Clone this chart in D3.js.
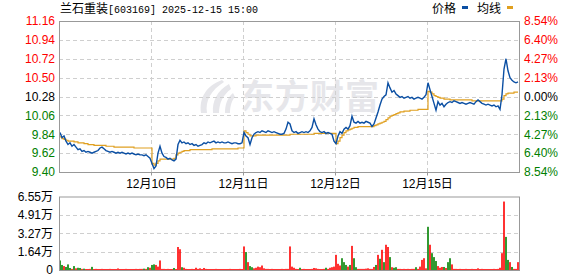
<!DOCTYPE html>
<html>
<head>
<meta charset="utf-8">
<script src="https://cdn.jsdelivr.net/npm/d3@7"></script>
<style>
    body { margin: 0; background: #fff; }
    svg { display: block; }
    text { font-family: "Liberation Sans", Arial, "Noto Sans CJK SC", sans-serif; }
</style>
</head>
<body>
<svg id="chart" width="578" height="276"></svg>
<script>
// stock + time
var stockName = '兰石重装';
var stockCode = '[603169] 2025-12-15 15:00';
var preClose = 10.28;

// left / right / volume tick labels
var priceTicks = ['11.16', '10.94', '10.72', '10.50', '10.28', '10.06', '9.84', '9.62', '9.40'];
var pctTicks = ['8.54%', '6.40%', '4.27%', '2.13%', '0.00%', '2.13%', '4.27%', '6.40%', '8.54%'];
var volTicks = [6.55, 4.91, 3.27, 1.64, 0];
var dayLabels = ['12月10日', '12月11日', '12月12日', '12月15日'];

// price, one value per 2px slot (46 per day)
var price1 = [9.86, 9.80, 9.82, 9.76, 9.72, 9.74, 9.70, 9.72, 9.69, 9.66, 9.67, 9.64, 9.65, 9.63, 9.64, 9.63,
    9.62, 9.63, 9.64, 9.65, 9.68, 9.69, 9.67, 9.65, 9.64, 9.63, 9.64, 9.63, 9.62, 9.63, 9.62, 9.63,
    9.62, 9.61, 9.62, 9.61, 9.62, 9.61, 9.60, 9.61, 9.60, 9.60, 9.59, 9.60, 9.58, 9.56];
var price2 = [9.50, 9.44, 9.47, 9.62, 9.70, 9.62, 9.58, 9.57, 9.55, 9.56, 9.54, 9.53, 9.55, 9.72, 9.77, 9.74,
    9.75, 9.73, 9.74, 9.72, 9.73, 9.71, 9.72, 9.70, 9.71, 9.72, 9.74, 9.73, 9.75, 9.74, 9.75, 9.76,
    9.74, 9.75, 9.74, 9.75, 9.74, 9.74, 9.75, 9.74, 9.73, 9.74, 9.74, 9.73, 9.73, 9.74];
var price3 = [9.86, 9.82, 9.80, 9.72, 9.80, 9.84, 9.86, 9.87, 9.86, 9.88, 9.87, 9.86, 9.88, 9.87, 9.86, 9.87,
    9.86, 9.85, 9.84, 9.84, 9.85, 9.90, 9.98, 9.96, 9.88, 9.86, 9.87, 9.85, 9.86, 9.87, 9.86, 9.87,
    9.86, 9.88, 9.92, 10.02, 9.95, 9.90, 9.87, 9.86, 9.87, 9.85, 9.86, 9.85, 9.84, 9.76];
var price4 = [9.73, 9.82, 9.87, 9.85, 9.90, 9.92, 9.90, 9.94, 10.05, 9.98, 9.97, 9.99, 9.97, 9.98, 9.97, 9.99,
    9.98, 9.97, 9.93, 9.96, 10.03, 10.10, 10.18, 10.25, 10.28, 10.30, 10.44, 10.38, 10.33, 10.35, 10.31, 10.29,
    10.27, 10.28, 10.26, 10.27, 10.28, 10.26, 10.27, 10.25, 10.26, 10.27, 10.26, 10.25, 10.27, 10.30];
var price5 = [10.44, 10.36, 10.28, 10.20, 10.12, 10.22, 10.18, 10.20, 10.16, 10.19, 10.21, 10.22, 10.21, 10.23, 10.22, 10.21,
    10.20, 10.21, 10.20, 10.19, 10.20, 10.21, 10.20, 10.19, 10.22, 10.24, 10.22, 10.20, 10.19, 10.18, 10.19, 10.18,
    10.17, 10.18, 10.16, 10.17, 10.13, 10.30, 10.60, 10.72, 10.58, 10.50, 10.47, 10.45, 10.44, 10.45];

// average price line
var avg1 = [9.81, 9.79, 9.78, 9.77, 9.76, 9.76, 9.76, 9.75, 9.75, 9.74, 9.74, 9.74, 9.73, 9.73, 9.72, 9.72,
    9.72, 9.71, 9.71, 9.71, 9.71, 9.71, 9.71, 9.70, 9.70, 9.70, 9.70, 9.69, 9.69, 9.69, 9.69, 9.69,
    9.69, 9.69, 9.69, 9.69, 9.69, 9.68, 9.68, 9.68, 9.68, 9.68, 9.68, 9.68, 9.68, 9.68];
var avg2 = [9.50, 9.48, 9.50, 9.53, 9.55, 9.55, 9.55, 9.55, 9.55, 9.55, 9.55, 9.56, 9.60, 9.62, 9.63, 9.64,
    9.65, 9.65, 9.65, 9.66, 9.66, 9.66, 9.66, 9.66, 9.66, 9.66, 9.66, 9.66, 9.66, 9.66, 9.67, 9.67,
    9.67, 9.67, 9.67, 9.67, 9.67, 9.67, 9.67, 9.67, 9.67, 9.67, 9.67, 9.68, 9.68, 9.68];
var avg3 = [9.88, 9.86, 9.84, 9.82, 9.82, 9.82, 9.83, 9.83, 9.83, 9.83, 9.83, 9.83, 9.83, 9.83, 9.83, 9.83,
    9.83, 9.83, 9.83, 9.83, 9.83, 9.83, 9.83, 9.84, 9.84, 9.84, 9.84, 9.84, 9.84, 9.84, 9.84, 9.84,
    9.84, 9.84, 9.84, 9.85, 9.85, 9.85, 9.85, 9.85, 9.85, 9.85, 9.85, 9.85, 9.85, 9.85];
var avg4 = [9.73, 9.76, 9.80, 9.83, 9.86, 9.88, 9.89, 9.90, 9.91, 9.92, 9.92, 9.93, 9.93, 9.93, 9.93, 9.93,
    9.93, 9.93, 9.93, 9.94, 9.95, 9.96, 9.97, 9.98, 9.99, 10.01, 10.03, 10.05, 10.06, 10.07, 10.08, 10.09,
    10.10, 10.10, 10.11, 10.11, 10.11, 10.12, 10.12, 10.12, 10.12, 10.13, 10.13, 10.13, 10.13, 10.13];
var avg5 = [10.34, 10.33, 10.31, 10.29, 10.28, 10.27, 10.26, 10.26, 10.25, 10.25, 10.25, 10.24, 10.24, 10.24, 10.24, 10.24,
    10.24, 10.24, 10.24, 10.24, 10.24, 10.24, 10.23, 10.23, 10.23, 10.23, 10.23, 10.23, 10.23, 10.23, 10.23, 10.23,
    10.23, 10.23, 10.23, 10.23, 10.23, 10.25, 10.29, 10.31, 10.32, 10.32, 10.32, 10.33, 10.33, 10.33];

// volume in 万 shares, sign = up (+, red) / down (-, green)
var vol1 = [-0.85, -0.45, 0.35, -0.27, -0.50, -0.18, 0.10, -0.35, 0.15, -0.20, -0.18, 0.10, -0.12, 0.09, 0.09, 0.10,
    -0.28, 0.09, 0.10, 0.09, 0.09, 0.10, 0.09, 0.09, 0.09, 0.10, 0.09, 0.09, 0.09, 0.14, 0.09, 0.09,
    0.09, 0.10, 0.09, 0.09, 0.09, 0.09, 0.10, 0.09, 0.10, 0.10, -0.12, 0.10, -0.25, 0.20];
var vol2 = [-0.45, -0.50, 0.45, 0.30, 0.85, 0.10, 0.10, 0.09, 0.10, 0.09, 0.09, -0.18, 0.09, 2.05, 1.85, -0.25,
    0.20, 0.10, 0.09, 0.09, 0.10, 0.09, 0.20, 0.10, 0.15, 0.09, 0.18, 0.10, 0.09, 0.09, 0.09, 0.09,
    0.10, 0.09, 0.09, 0.09, 0.09, 0.09, 0.09, 0.10, 0.09, 0.09, 0.09, 0.09, 0.10, 0.09];
var vol3 = [2.10, -1.60, 0.70, -0.35, -0.25, 0.15, 0.20, 0.30, 0.25, 0.40, 0.15, 0.10, 0.10, 0.09, 0.10, 0.09,
    0.09, 0.09, 0.09, 0.10, 0.09, 0.10, 0.10, 2.10, 0.30, 0.20, 0.10, 0.09, -0.20, 0.09, 0.10, 0.09,
    0.09, 0.09, 0.10, 0.18, 0.15, 0.10, 0.09, 0.09, 0.10, -0.20, 0.10, 0.20, 0.25, 0.30];
var vol4 = [1.35, 0.55, 0.40, -1.05, -0.70, -0.45, 0.30, -0.45, 2.15, -1.05, -0.25, 0.10, 0.10, 0.10, 0.10, 0.12,
    0.15, 0.10, 0.10, 0.27, -0.45, 1.35, -1.00, 1.80, -0.70, 2.25, 2.05, -1.15, 0.25, -0.20, -0.25, 0.10,
    0.10, 0.09, 0.10, 0.09, 0.10, 0.09, 0.10, 0.10, -0.25, 0.10, 0.30, 0.90, 1.05, 0.15];
var vol5 = [-3.85, 2.25, -1.50, -1.15, -0.80, 0.35, 0.20, 0.27, -0.27, 0.18, -0.70, -1.05, 0.50, 0.10, 0.10, 0.09,
    0.10, 0.09, 0.09, 0.10, 0.09, 0.09, 0.10, 0.09, 0.09, 0.15, 0.09, 0.10, 0.09, 0.09, 0.09, 0.09,
    0.09, 0.10, 0.09, 0.10, 0.20, 1.50, 6.10, -2.95, -0.90, 0.70, -0.27, 0.10, 0.10, 0.70];

var prices = [].concat(price1, price2, price3, price4, price5);
var avgs = [].concat(avg1, avg2, avg3, avg4, avg5);
var vols = [].concat(vol1, vol2, vol3, vol4, vol5);
var perDay = price1.length;
var slots = prices.length;

var red = '#ff0000', green = '#008000', black = '#000000';
var lineBlue = '#0b4fa3', lineGold = '#e0a020';
var gridColor = '#cfcfcf', frameColor = '#999999';

var left = 59, right = 519;
var pTop = 21, pBottom = 172;
var vTop = 196.5, vBottom = 270;

var svg = d3.select('#chart');

var x = d3.scaleLinear().domain([0, slots]).range([left, right]);
var y = d3.scaleLinear().domain([+priceTicks[8], +priceTicks[0]]).range([pBottom, pTop]);
var yv = d3.scaleLinear().domain([0, volTicks[0]]).range([vBottom, vTop]);

function labelColor(i) {
    if (i < 4) return red;
    if (i == 4) return black;
    return green;
}

// watermark
var wm = svg.append('g').attr('fill', '#e6e6ea');
wm.append('path')
    .attr('d', 'M222,80 C206,86 199,98 201,113 L207,113 C205,101 211,90 224,82 Z' +
        ' M229,84 C217,91 212,101 213,113 L219,113 C219,103 223,95 231,89 Z' +
        ' M233,93 C227,98 225,105 225,113 L230,113 C230,106 232,100 235,97 Z');
wm.append('text')
    .attr('x', 240)
    .attr('y', 109)
    .style('font-family', '"Noto Sans CJK SC"')
    .style('font-size', '34px')
    .style('font-weight', 'bold')
    .style('letter-spacing', '1px')
    .text('东方财富');

// grid lines for the price panel
svg.append('g')
    .selectAll('line.h')
    .data(priceTicks.slice(1, -1))
    .enter().append('line')
    .attr('x1', left).attr('x2', right)
    .attr('y1', function (d) { return Math.round(y(+d)) + 0.5; })
    .attr('y2', function (d) { return Math.round(y(+d)) + 0.5; })
    .attr('stroke', gridColor)
    .attr('stroke-dasharray', '4,3');

var dayBounds = d3.range(1, 5).map(function (d) { return d * perDay; });
svg.append('g')
    .selectAll('line')
    .data(dayBounds)
    .enter().append('line')
    .attr('x1', function (d) { return Math.round(x(d)) + 0.5; })
    .attr('x2', function (d) { return Math.round(x(d)) + 0.5; })
    .attr('y1', pTop).attr('y2', pBottom)
    .attr('stroke', gridColor)
    .attr('stroke-dasharray', '4,3');

// volume grid
svg.append('g')
    .selectAll('line')
    .data(volTicks.slice(1, -1))
    .enter().append('line')
    .attr('x1', left).attr('x2', right)
    .attr('y1', function (d) { return Math.round(yv(d)) + 0.5; })
    .attr('y2', function (d) { return Math.round(yv(d)) + 0.5; })
    .attr('stroke', gridColor)
    .attr('stroke-dasharray', '4,3');

// volume bars
svg.append('g')
    .selectAll('rect')
    .data(vols)
    .enter().append('rect')
    .attr('x', function (d, i) { return x(i) + 0.2; })
    .attr('width', 1.6)
    .attr('y', function (d) { return yv(Math.abs(d)); })
    .attr('height', function (d) { return vBottom - yv(Math.abs(d)); })
    .attr('fill', function (d) { return d >= 0 ? red : green; });

// average line then price line
var line = d3.line()
    .x(function (d, i) { return x(i + 0.5); })
    .y(function (d) { return y(d); });

svg.append('path')
    .datum(avgs)
    .attr('d', line.curve(d3.curveStepAfter))
    .attr('fill', 'none')
    .attr('stroke', lineGold)
    .attr('stroke-width', 1.2);

svg.append('path')
    .datum(prices)
    .attr('d', line.curve(d3.curveLinear))
    .attr('fill', 'none')
    .attr('stroke', lineBlue)
    .attr('stroke-width', 1.4);

// frames
svg.append('rect')
    .attr('x', left + 0.5).attr('y', pTop + 0.5)
    .attr('width', right - left).attr('height', pBottom - pTop)
    .attr('fill', 'none').attr('stroke', frameColor);
svg.append('rect')
    .attr('x', left + 0.5).attr('y', vTop + 0.5)
    .attr('width', right - left).attr('height', vBottom - vTop)
    .attr('fill', 'none').attr('stroke', frameColor);

// left price labels
svg.append('g')
    .selectAll('text')
    .data(priceTicks)
    .enter().append('text')
    .attr('x', 55)
    .attr('y', function (d) { return y(+d); })
    .attr('dy', '0.36em')
    .attr('text-anchor', 'end')
    .style('font-size', '12px')
    .attr('fill', function (d, i) { return labelColor(i); })
    .text(function (d) { return d; });

// right percent labels
svg.append('g')
    .selectAll('text')
    .data(pctTicks)
    .enter().append('text')
    .attr('x', 524)
    .attr('y', function (d, i) { return y(+priceTicks[i]); })
    .attr('dy', '0.36em')
    .style('font-size', '12px')
    .attr('fill', function (d, i) { return labelColor(i); })
    .text(function (d) { return d; });

// x axis with dates
var xAxis = d3.axisBottom(x)
    .tickValues(dayBounds)
    .tickSize(3)
    .tickPadding(4)
    .tickFormat(function (d, i) { return dayLabels[i]; });
var gx = svg.append('g')
    .attr('transform', 'translate(0,' + (pBottom + 0.5) + ')')
    .call(xAxis);
gx.select('.domain').remove();
gx.selectAll('line').attr('stroke', frameColor);
gx.selectAll('text')
    .attr('fill', black)
    .style('font-size', '12px')
    .style('font-family', '"Liberation Sans", "Noto Sans CJK SC", sans-serif');

// volume labels
svg.append('g')
    .selectAll('text')
    .data(volTicks)
    .enter().append('text')
    .attr('x', 53)
    .attr('y', function (d) { return yv(d); })
    .attr('dy', '0.36em')
    .attr('text-anchor', 'end')
    .style('font-size', '12px')
    .attr('fill', black)
    .text(function (d) { return d == 0 ? '0' : d3.format('.2f')(d) + '万'; });

// title
var title = svg.append('text')
    .attr('x', 60)
    .attr('y', 13)
    .attr('fill', black);
title.append('tspan')
    .style('font-family', '"Noto Sans CJK SC"')
    .style('font-size', '12px')
    .text(stockName);
title.append('tspan')
    .style('font-family', '"Liberation Mono", monospace')
    .style('font-size', '10px')
    .text(stockCode);

// legend
var legend = svg.append('g');
var legendItems = [{name: '价格', color: lineBlue, x: 432}, {name: '均线', color: lineGold, x: 477}];
legend.selectAll('text')
    .data(legendItems)
    .enter().append('text')
    .attr('x', function (d) { return d.x; })
    .attr('y', 13)
    .style('font-family', '"Noto Sans CJK SC"')
    .style('font-size', '12px')
    .attr('fill', black)
    .text(function (d) { return d.name; });
legend.selectAll('rect')
    .data(legendItems)
    .enter().append('rect')
    .attr('x', function (d) { return d.x + 30; })
    .attr('y', 6)
    .attr('width', 6)
    .attr('height', 3)
    .attr('fill', function (d) { return d.color; });
</script>
</body>
</html>
